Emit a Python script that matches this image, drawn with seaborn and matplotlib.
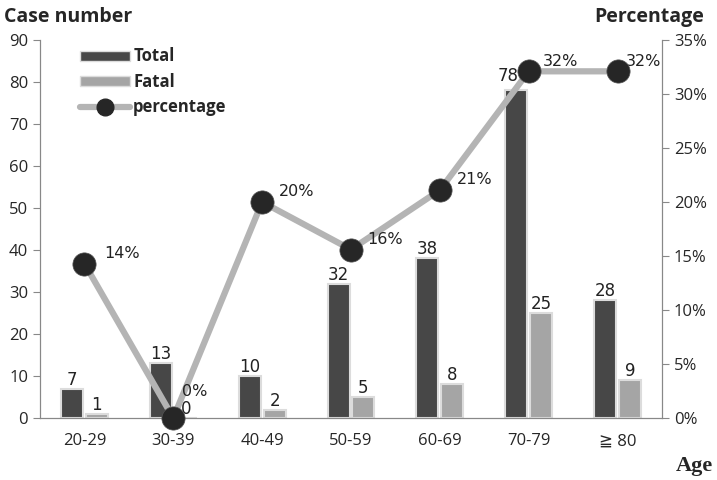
import seaborn as sns
import matplotlib.pyplot as plt
import matplotlib.lines as mlines
import matplotlib.patches as mpatches
import numpy as np
import pandas as pd

# data
ages = ["20-29", "30-39", "40-49", "50-59", "60-69", "70-79", "\u2267 80"]
total = [7, 13, 10, 32, 38, 78, 28]
fatal = [1, 0, 2, 5, 8, 25, 9]
pct = [14.3, 0.0, 20.0, 15.6, 21.1, 32.1, 32.1]
pct_labels = ["14%", "0%", "20%", "16%", "21%", "32%", "32%"]

df = pd.DataFrame({
    "age": ages * 2,
    "count": total + fatal,
    "kind": ["Total"] * len(ages) + ["Fatal"] * len(ages),
})

sns.set_style("white")
plt.rcParams['font.family'] = ['Open Sans', 'DejaVu Sans']

fig = plt.figure(figsize=(7.17, 4.8), dpi=100)
ax = fig.add_axes([40/717, 62/480, 622/717, 378/480])

sns.barplot(
    data=df, x="age", y="count", hue="kind", ax=ax,
    palette={"Total": "#474747", "Fatal": "#a5a5a5"},
    width=0.56, gap=0.12, edgecolor="#dcdcdc", linewidth=1.5,
    legend=False
)

ax.set_xlim(-0.5, 6.5)
ax.set_ylim(0, 90)
ax.set_yticks(range(0, 91, 10))
ax.set_xlabel("")
ax.set_ylabel("")

# value labels above bars
for c in ax.containers:
    texts = ax.bar_label(c, fmt="%d", padding=0, fontsize=12, family="DejaVu Sans", color="#222222")
    for t in texts:
        if t.get_text() == "78":
            # keep it clear of the marker, as in the source
            t.set_horizontalalignment("right")
            t.set_position((t.get_position()[0] + 2, t.get_position()[1]))
            t.set_y(4)

ax2 = ax.twinx()
x = np.arange(len(ages))
sns.lineplot(x=x, y=pct, ax=ax2, color="#b4b4b4", linewidth=4.5, zorder=3)
sns.scatterplot(x=x, y=pct, ax=ax2, color="#262626", s=280, edgecolor="#555555",
                linewidth=0.5, zorder=4, clip_on=False)
ax2.set_ylim(0, 35)
ax2.set_yticks(range(0, 36, 5))
ax2.set_yticklabels([f"{v}%" for v in range(0, 36, 5)])

offsets = [(14, 2), (6, 14), (12, 2), (12, 2), (12, 2), (10, 2), (6, 2)]
for xi, p, lab, off in zip(x, pct, pct_labels, offsets):
    ax2.annotate(lab, (xi, p), xytext=off, textcoords="offset points",
                 fontsize=11.5, family="DejaVu Sans", color="#222222", va="bottom")

# spines and ticks
for a in (ax, ax2):
    a.spines["top"].set_visible(False)
    a.spines["left"].set_color("#888888")
    a.spines["right"].set_color("#888888")
    a.spines["bottom"].set_color("#888888")
ax.set_xticks(np.arange(-0.5, 7, 1), minor=True)
ax.tick_params(axis="x", which="major", length=0, labelsize=12, pad=11)
ax.tick_params(axis="x", which="minor", length=5, color="#888888")
ax.tick_params(axis="y", left=True, length=5, color="#888888", labelsize=12)
ax2.tick_params(axis="y", right=True, length=5, color="#888888", labelsize=12)
ax2.set_ylabel("")

fig.text(0.005, 0.985, "Case number", fontsize=14, fontweight="bold", va="top", ha="left")
fig.text(0.982, 0.985, "Percentage", fontsize=14, fontweight="bold", va="top", ha="right")
fig.text(0.995, 0.03, "Age", fontsize=16, fontweight="bold", family="Liberation Serif",
         ha="right", va="center")

handles = [
    mpatches.Patch(facecolor="#474747", edgecolor="#dcdcdc", label="Total"),
    mpatches.Patch(facecolor="#a5a5a5", edgecolor="#dcdcdc", label="Fatal"),
    mlines.Line2D([], [], color="#b4b4b4", linewidth=4.5, marker="o",
                  markersize=12, markerfacecolor="#262626", markeredgecolor="#262626",
                  label="percentage"),
]
leg = ax.legend(handles=handles, loc="upper left", bbox_to_anchor=(0.04, 1.02),
                frameon=False, handlelength=3.0, handleheight=0.55, handletextpad=0.2,
                prop={"weight": "bold", "size": 12}, labelspacing=0.45)

plt.savefig("out.png", dpi=100)
